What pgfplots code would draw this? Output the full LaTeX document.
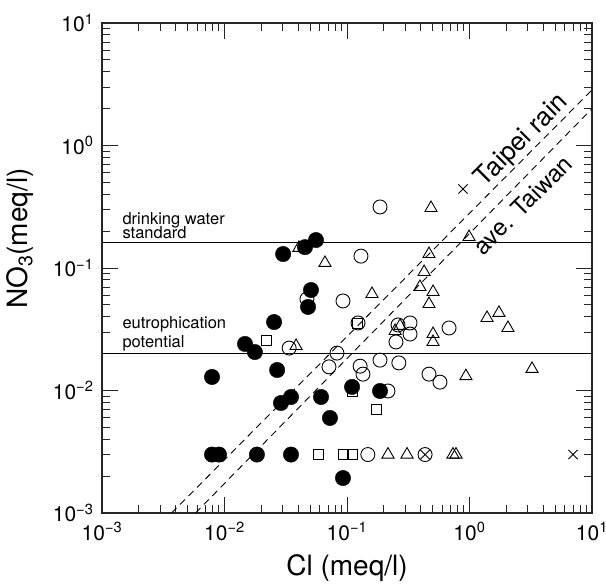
\documentclass[border=0pt]{standalone}
\usepackage{fontspec}
\setmainfont{TeX Gyre Heros}
\usepackage{pgfplots}
\pgfplotsset{compat=1.18}
\begin{document}
\begin{tikzpicture}
\useasboundingbox (-102bp,-73bp) rectangle (504bp,513bp);
\begin{loglogaxis}[
  scale only axis, width=490bp, height=490bp,
  xmin=1e-3, xmax=10, ymin=1e-3, ymax=10,
  xtick={1e-3,1e-2,1e-1,1,10},
  xticklabels={10\textsuperscript{−3},10\textsuperscript{−2},10\textsuperscript{−1},10\textsuperscript{0},10\textsuperscript{1}},
  ytick={1e-3,1e-2,1e-1,1,10},
  yticklabels={10\textsuperscript{−3},10\textsuperscript{−2},10\textsuperscript{−1},10\textsuperscript{0},10\textsuperscript{1}},
  tick align=inside,
  major tick length=16bp, minor tick length=8bp,
  axis line style={line width=1.3bp, black!85},
  every tick/.style={black!85, line width=0.9bp},
  ticklabel style={font=\fontsize{21bp}{24bp}\selectfont},
  xticklabel style={yshift=-6bp},
  yticklabel style={xshift=-5bp},
  xlabel={Cl (meq/l)}, ylabel={NO\textsubscript{3}(meq/l)},
  xlabel style={font=\fontsize{28bp}{32bp}\selectfont, at={(axis description cs:0.5,-0.113)}, anchor=center},
  ylabel style={font=\fontsize{28bp}{32bp}\selectfont, at={(axis description cs:-0.168,0.56)}, anchor=center},
  clip=false,
]
% reference lines
\addplot[black, line width=1bp] coordinates {(1e-3,0.16) (10,0.16)};
\addplot[black, line width=1bp] coordinates {(1e-3,0.02) (10,0.02)};
\addplot[black, line width=0.9bp, dash pattern=on 7bp off 5bp] coordinates {(0.0037,0.001) (10,2.84)};
\addplot[black, line width=0.9bp, dash pattern=on 7bp off 5bp] coordinates {(0.0058,0.001) (10,2.0)};
% open circles
\addplot[only marks, mark=o, mark size=7bp, mark options={line width=0.9bp, black}] coordinates {
(0.186,0.315) (0.130,0.125) (0.0927,0.0538) (0.0471,0.0558) (0.123,0.0356)
(0.261,0.0343) (0.327,0.0356) (0.327,0.0289) (0.681,0.0324) (0.251,0.0249)
(0.0337,0.0222) (0.0828,0.0202) (0.0713,0.0156) (0.128,0.0158) (0.135,0.0136)
(0.186,0.0177) (0.265,0.0168) (0.467,0.0136) (0.574,0.0117) (0.216,0.00991)
(0.148,0.003) (0.434,0.003)};
% triangles
\addplot[only marks, mark=triangle, mark size=7bp, mark options={line width=0.9bp, black}] coordinates {
(0.485,0.309) (0.991,0.179) (0.0661,0.110) (0.0405,0.146) (0.467,0.130)
(0.426,0.0927) (0.394,0.0700) (0.504,0.0637) (0.160,0.0614) (0.467,0.0508)
(0.271,0.0337) (0.247,0.0306) (0.504,0.0289) (0.504,0.0249) (1.39,0.0391)
(1.74,0.0430) (2.06,0.0324) (3.24,0.0150) (0.935,0.0131) (0.0384,0.0231)
(0.216,0.003) (0.309,0.003) (0.733,0.003) (0.776,0.003)};
% squares
\addplot[only marks, mark=square, mark size=5bp, mark options={line width=0.9bp, black}] coordinates {
(0.0218,0.0258) (0.121,0.0356) (0.110,0.0099) (0.173,0.00706)
(0.0590,0.003) (0.0927,0.003) (0.110,0.003)};
% crosses
\addplot[only marks, mark=x, mark size=6.5bp, mark options={line width=0.9bp, black}] coordinates {
(0.885,0.442) (0.434,0.003) (7.0,0.003)};
% filled circles
\addplot[only marks, mark=*, mark size=7.7bp, mark options={black, fill=black}] coordinates {
(0.0301,0.130) (0.0454,0.148) (0.0558,0.169) (0.0508,0.0661) (0.0481,0.0481)
(0.0254,0.0362) (0.0147,0.0240) (0.0177,0.0206) (0.00791,0.0129) (0.0269,0.0147)
(0.0289,0.00791) (0.0349,0.00885) (0.0614,0.00885) (0.0726,0.00597) (0.110,0.0107)
(0.186,0.00991) (0.00791,0.003) (0.00902,0.003) (0.0184,0.003) (0.0349,0.003)
(0.0927,0.00193)};
% text
\node[anchor=base west, font=\fontsize{16.5bp}{16bp}\selectfont] at (axis cs:0.001377,0.2286) {drinking water};
\node[anchor=base west, font=\fontsize{16.5bp}{16bp}\selectfont] at (axis cs:0.001377,0.1726) {standard};
\node[anchor=base west, font=\fontsize{16.5bp}{16bp}\selectfont] at (axis cs:0.001377,0.0318) {eutrophication};
\node[anchor=base west, font=\fontsize{16.5bp}{16bp}\selectfont] at (axis cs:0.001377,0.0226) {potential};
\node[rotate=45, anchor=center, font=\fontsize{26bp}{26bp}\selectfont] at (axis cs:2.68,1.09) {Taipei rain};
\node[rotate=45, anchor=center, font=\fontsize{24bp}{24bp}\selectfont] at (axis cs:2.72,0.327) {ave. Taiwan};
\end{loglogaxis}
\end{tikzpicture}
\end{document}
